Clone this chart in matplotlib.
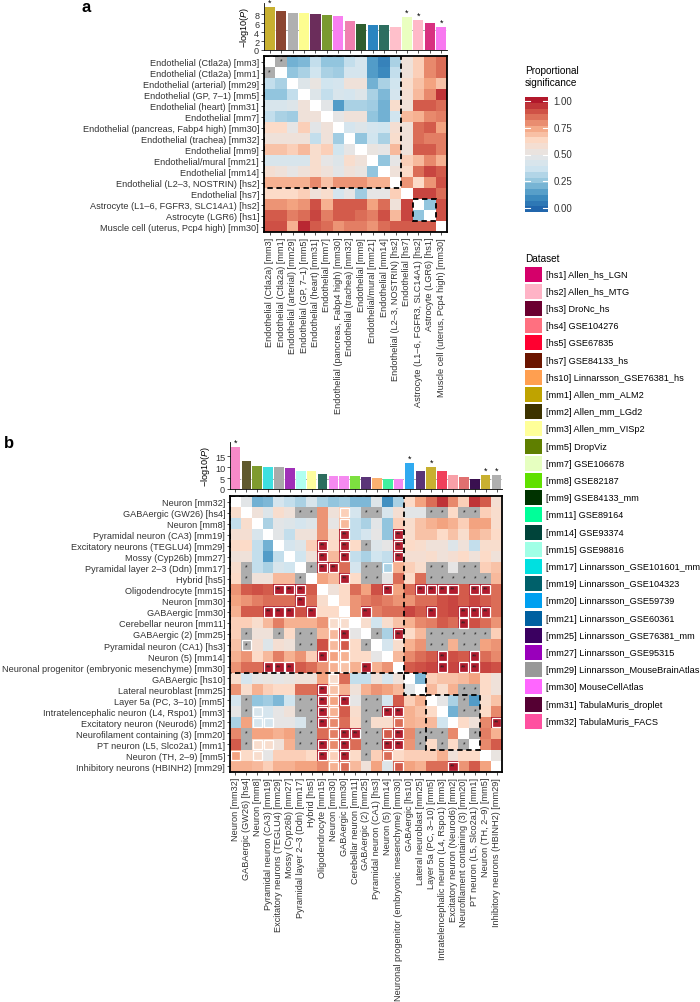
import numpy as np
import matplotlib
matplotlib.use('Agg')
import matplotlib.pyplot as plt
from matplotlib.colors import LinearSegmentedColormap, ListedColormap, Normalize
from matplotlib.patches import Rectangle

plt.rcParams['font.family'] = ['Liberation Sans', 'DejaVu Sans']
plt.rcParams['mathtext.fontset'] = 'custom'
plt.rcParams['mathtext.rm'] = 'Liberation Sans'
plt.rcParams['mathtext.it'] = 'Liberation Sans:italic'

FS = 6.55

# ---------------- panel a data ----------------
labels_a = [
    "Endothelial (Ctla2a) [mm3]", "Endothelial (Ctla2a) [mm1]", "Endothelial (arterial) [mm29]",
    "Endothelial (GP, 7\u20131) [mm5]", "Endothelial (heart) [mm31]", "Endothelial [mm7]",
    "Endothelial (pancreas, Fabp4 high) [mm30]", "Endothelial (trachea) [mm32]", "Endothelial [mm9]",
    "Endothelial/mural [mm21]", "Endothelial [mm14]", "Endothelial (L2\u20133, NOSTRIN) [hs2]",
    "Endothelial [hs7]", "Astrocyte (L1\u20136, FGFR3, SLC14A1) [hs2]", "Astrocyte (LGR6) [hs1]",
    "Muscle cell (uterus, Pcp4 high) [mm30]",
]
bars_a = [9.7, 8.7, 8.3, 8.2, 8.15, 7.9, 7.6, 6.4, 5.8, 5.55, 5.55, 5.1, 7.4, 6.6, 6.1, 5.1]
star_a = [1, 0, 0, 0, 0, 0, 0, 0, 0, 0, 0, 0, 1, 1, 0, 1]
colors_a = ['#c8b030', '#8b4530', '#b0b0b0', '#fdfd90', '#6b2d5b', '#7a9a30', '#f880f0', '#f080b0',
            '#2f5e2f', '#2a85c0', '#2d6e60', '#ffc0cb', '#eaffc0', '#ffb8c8', '#d83080', '#f878f0']
thresh_a = 4.5

# None = diagonal, 'g' = grey cell with *, 's' = ** cell
heat_a = [
    [None, 'g', .2, .22, .35, .25, .25, .35, .4, .15, .08, .3, .55, .65, .8, .85],
    ['g', None, .25, .3, .38, .3, .28, .4, .4, .15, .1, .35, .55, .65, .8, .85],
    [.35, .3, None, .45, .52, .38, .4, .55, .55, .2, .3, .38, .6, .68, .75, .68],
    [.25, .25, .35, None, .45, .35, .42, .4, .45, .3, .22, .4, .58, .7, .8, .95],
    [.42, .42, .45, .55, None, .48, .15, .3, .3, .28, .2, .6, .55, .88, .88, .85],
    [.35, .3, .28, .55, .55, None, .5, .55, .55, .25, .2, .38, .7, .72, .8, .82],
    [.62, .62, .5, .65, .48, .55, None, .4, .45, .4, .38, .58, .55, .85, .88, .75],
    [.55, .55, .55, .55, .35, .55, .28, None, .25, .38, .3, .6, .55, .85, .82, .82],
    [.68, .68, .65, .7, .6, .65, .38, .5, None, .52, .5, .7, .55, .88, .88, .82],
    [.42, .42, .42, .42, .6, .5, .45, .6, .55, None, .25, .5, .65, .7, .8, .72],
    [.58, .55, .5, .55, .6, .55, .48, .55, .52, .25, None, .55, .62, .85, .92, .88],
    [.72, .72, .72, .72, .8, .68, .78, .78, .78, .72, .72, None, .78, .62, .78, .9],
    [.62, .62, .62, .65, .55, .6, .4, .5, .28, .5, .5, .65, None, .92, .92, .85],
    [.78, .78, .75, .78, .9, .72, .88, .88, .88, .75, .85, .55, .92, None, .25, .9],
    [.88, .88, .82, .85, .92, .82, .88, .88, .85, .82, .9, .7, .92, .25, None, .9],
    [.9, .9, .72, .97, .88, .85, .78, .82, .82, .78, .85, .88, .88, .88, .88, None],
]
boxes_a = [(0, 12), (13, 15)]

# ---------------- panel b data ----------------
labels_b = [
    "Neuron [mm32]", "GABAergic (GW26) [hs4]", "Neuron [mm8]", "Pyramidal neuron (CA3) [mm19]",
    "Excitatory neurons (TEGLU4) [mm29]", "Mossy (Cyp26b) [mm27]", "Pyramidal layer 2\u20133 (Ddn) [mm17]",
    "Hybrid [hs5]", "Oligodendrocyte [mm15]", "Neuron [mm30]", "GABAergic [mm30]",
    "Cerebellar neuron [mm11]", "GABAergic (2) [mm25]", "Pyramidal neuron (CA1) [hs3]",
    "Neuron (5) [mm14]", "Neuronal progenitor (embryonic mesenchyme) [mm30]", "GABAergic [hs10]",
    "Lateral neuroblast [mm25]", "Layer 5a (PC, 3\u201310) [mm5]", "Intratelencephalic neuron (L4, Rspo1) [mm3]",
    "Excitatory neuron (Neurod6) [mm2]", "Neurofilament containing (3) [mm20]",
    "PT neuron (L5, Slco2a1) [mm1]", "Neuron (TH, 2\u20139) [mm5]", "Inhibitory neurons (HBINH2) [mm29]",
]
bars_b = [19.0, 13.0, 10.5, 10.0, 9.9, 9.75, 8.25, 8.1, 6.75, 6.0, 5.85, 5.85, 5.7, 5.25, 4.8,
          4.8, 11.85, 8.1, 10.0, 8.1, 6.3, 5.3, 4.8, 6.5, 6.3]
star_b = [1, 0, 0, 0, 0, 0, 0, 0, 0, 0, 0, 0, 0, 0, 0, 0, 1, 0, 1, 0, 0, 0, 0, 1, 1]
colors_b = ['#f78ac8', '#5f5a2e', '#7f9b2f', '#3ee0e0', '#aaaaaa', '#a030b8', '#b0fff0', '#fdfd9e',
            '#2d6d5e', '#f58af0', '#f58af0', '#7de040', '#5a3478', '#fcb070', '#40f0a0', '#f58af0',
            '#30aaf0', '#5a3478', '#c8b030', '#f0405a', '#f8a0a8', '#e07070', '#3a1050', '#c8b030',
            '#b0b0b0']
thresh_b = 4.8

heat_b = [
    [None, .48, .2, .22, .4, .35, .3, .42, .3, .25, .28, .22, .22, .45, .12, .3, .62, .75, .85, .95, .8, .65, .95, .88, .58],
    [.6, None, .55, .45, .6, .55, 'g', 'g', .78, .55, .65, .4, 'g', 'g', .42, .58, .48, .48, 'g', 'g', .62, 'g', 'g', .65, .6],
    [.35, .6, None, .3, .48, .45, .4, .45, .78, .5, .7, .35, .3, .48, .25, .65, .6, .68, .72, .75, .72, .65, .75, .75, .6],
    [.58, .58, .42, None, .48, .35, .55, .55, .78, .6, 's', .35, .4, .5, .25, 's', .6, .68, .68, .62, .68, .6, .72, .68, .62],
    [.62, .62, .35, .2, None, .4, .45, .65, 's', .62, 's', .62, 'g', .45, .5, 's', .62, .6, .55, .55, .45, .55, .35, .6, .6],
    [.55, .55, .35, .15, .35, None, .38, .55, 's', .7, 's', .35, .3, .38, .35, 's', .58, .58, .6, .55, .58, .62, .55, .62, .55],
    [.6, 'g', .35, .3, .42, .38, None, 'g', 's', 's', .85, .4, 'g', 'g', .3, .72, .65, .6, 'g', 'g', .5, 'g', 'g', .65, .68],
    [.62, 'g', .55, .55, .7, .7, 'g', None, .75, .7, 's', .62, 'g', 'g', .5, .85, .62, .85, 'g', 'g', 'g', 'g', 'g', 'g', .7],
    [.78, .88, .9, .88, 's', 's', 's', .88, None, .55, .62, .85, .75, .9, 's', .75, .85, 's', 's', 's', 's', .88, 's', 's', .85],
    [.75, .78, .82, .85, .85, .85, 's', .85, .6, None, .62, .78, .82, .85, .82, .78, .78, .85, .85, .9, .92, .88, .92, .88, .85],
    [.72, .88, .88, 's', 's', 's', .9, 's', .62, .62, None, .78, 's', .82, .85, .85, .92, .88, 's', .9, .92, 's', 's', 's', .85],
    [.65, .65, .6, .7, .82, .72, .72, .72, .78, .6, .6, None, .6, .38, .6, .68, .72, .8, .82, .88, .85, 's', .9, .85, .78],
    [.65, 'g', .55, .55, 'g', .62, 'g', 'g', .7, .7, 's', .5, None, 'g', .3, 's', .62, .7, 'g', 'g', 'g', 'g', 'g', 'g', .65],
    [.68, 'g', .58, .45, .58, .55, 'g', 'g', .9, .7, .88, .62, 'g', None, .4, .6, .72, .78, 'g', 'g', .72, 'g', 'g', .75, .78],
    [.72, .78, .62, .7, .82, .72, .78, .65, 's', .75, .72, .62, .62, .5, None, .7, .8, .85, .88, 's', .9, .88, 's', .85, .8],
    [.78, .85, .85, 's', 's', 's', .88, .85, .78, .72, .68, .72, 's', .72, .78, None, .88, .9, .92, 's', .92, 's', 's', .92, .9],
    [.6, .4, .5, .52, .5, .52, .55, .55, .75, .6, .85, .35, .35, .55, .4, .55, None, .22, .65, .68, .68, .7, .75, .62, .55],
    [.78, .6, .72, .65, .62, .62, .85, .85, 's', .68, .72, .55, .72, .78, .75, .7, .48, None, .7, .6, .72, 'g', 'g', .62, .55],
    [.4, 'g', .25, .28, .22, .38, 'g', 'g', 's', .75, 's', .5, 'g', 'g', .4, .88, .65, .72, None, .5, .3, 'g', .15, .6, .68],
    [.5, 'g', .42, .4, .5, .55, 'g', 'g', 's', .72, .88, .6, 'g', 'g', 's', 's', .72, .68, .62, None, .2, 'g', 'g', .62, .8],
    [.3, .75, .4, .4, .5, .5, .42, 'g', 's', .8, .85, .62, 'g', .6, .6, .85, .72, .7, .7, .38, None, .62, .55, .8, 's'],
    [.8, 'g', .75, .75, .72, .75, 'g', 'g', .85, .82, 's', 's', 'g', 'g', .88, 's', .8, 'g', 'g', 'g', .8, None, 'g', .82, .72],
    [.88, 'g', .6, .6, .55, .72, 'g', 'g', 's', .8, 's', .85, 'g', 'g', 's', 's', .78, 'g', .62, 'g', .62, 'g', None, .8, .88],
    [.75, .62, .6, .5, .65, .65, .65, .62, 's', .65, 's', .62, 'g', .65, .85, .62, .65, .65, .65, .72, .55, .62, .62, None, .52],
    [.72, .72, .7, .65, .72, .72, .75, .75, .8, .72, .85, .7, .55, .75, .45, .88, .75, .72, .85, .85, 's', .78, .88, .75, None],
]
boxes_b = [(0, 16), (16, 18), (18, 23)]
outlined_b = [(1, 10), (2, 10), (13, 1), (6, 14), (11, 9), (11, 10), (12, 9), (13, 9), (13, 10),
              (14, 9), (14, 10), (15, 9), (15, 10), (16, 9), (17, 9), (18, 9), (19, 9), (20, 9),
              (21, 9), (22, 9), (23, 9), (24, 9), (24, 10), (20, 15), (21, 14), (23, 14), (24, 15),
              (19, 2), (20, 2), (20, 3), (22, 2), (22, 3), (23, 0), (23, 2)]

# ---------------- legend data ----------------
dataset_labels = [
    "[hs1] Allen_hs_LGN", "[hs2] Allen_hs_MTG", "[hs3] DroNc_hs", "[hs4] GSE104276", "[hs5] GSE67835",
    "[hs7] GSE84133_hs", "[hs10] Linnarsson_GSE76381_hs", "[mm1] Allen_mm_ALM2", "[mm2] Allen_mm_LGd2",
    "[mm3] Allen_mm_VISp2", "[mm5] DropViz", "[mm7] GSE106678", "[mm8] GSE82187", "[mm9] GSE84133_mm",
    "[mm11] GSE89164", "[mm14] GSE93374", "[mm15] GSE98816", "[mm17] Linnarsson_GSE101601_mm",
    "[mm19] Linnarsson_GSE104323", "[mm20] Linnarsson_GSE59739", "[mm21] Linnarsson_GSE60361",
    "[mm25] Linnarsson_GSE76381_mm", "[mm27] Linnarsson_GSE95315", "[mm29] Linnarsson_MouseBrainAtlas",
    "[mm30] MouseCellAtlas", "[mm31] TabulaMuris_droplet", "[mm32] TabulaMuris_FACS",
]
dataset_colors = [
    '#d5006a', '#ffb3c6', '#6b0030', '#ff7080', '#ff0030', '#6b1500', '#ff9f50', '#bfa300', '#3d3300',
    '#ffff99', '#5f7f00', '#e6ffc0', '#60e000', '#003300', '#00ff99', '#00443a', '#a0ffe6', '#00e0e0',
    '#00606a', '#00a0f0', '#0060a0', '#3a0060', '#9900bb', '#999999', '#ff66ff', '#550033', '#ff50a0',
]
cbar_ticks = [0.0, 0.25, 0.5, 0.75, 1.0]

# ---------------- styling ----------------
cmap = LinearSegmentedColormap.from_list(
    'rdbu', ['#2166ac', '#4393c3', '#92c5de', '#d1e5f0', '#e6e6e6',
             '#fddbc7', '#f4a582', '#d6604d', '#b2182b'], N=256)
cmap.set_bad('white')
norm = Normalize(0, 1)
GREY = '#adadad'
DARKRED = '#b01c2e'

W, H = 700, 1003
fig = plt.figure(figsize=(7, 10.03), dpi=100)


def rect(x0, y0, x1, y1):
    return [x0 / W, 1 - y1 / H, (x1 - x0) / W, (y1 - y0) / H]


def split(rows):
    n = len(rows)
    vals = np.full((n, n), np.nan)
    g = np.zeros((n, n), bool)
    s = np.zeros((n, n), bool)
    for i, r in enumerate(rows):
        for j, v in enumerate(r):
            if v == 'g':
                g[i, j] = True
            elif v == 's':
                s[i, j] = True
            elif v is not None:
                vals[i, j] = v
    return vals, g, s


def draw_bars(ax, heights, colors, stars, thresh, ymax, yticks):
    n = len(heights)
    x = np.arange(n)
    ax.bar(x, heights, width=0.88, color=colors, edgecolor='none')
    ax.axhline(thresh, color='#999999', lw=0.6, ls=(0, (3, 2)), zorder=0)
    for i in range(n):
        if stars[i]:
            ax.text(x[i], heights[i] + ymax * 0.005, '*', ha='center', va='bottom',
                    fontsize=6.5, clip_on=False)
    ax.set_xlim(-0.5, n - 0.5)
    ax.set_ylim(0, ymax)
    ax.set_yticks(yticks)
    ax.set_xticks(x)
    ax.set_xticklabels([])
    ax.tick_params(labelsize=FS, length=2, width=0.6, pad=1.5, colors='#333333')
    for sp in ['top', 'right']:
        ax.spines[sp].set_visible(False)
    for sp in ['left', 'bottom']:
        ax.spines[sp].set_linewidth(0.6)
    ax.set_ylabel(r'$-$log10($\mathit{P}$)', fontsize=FS, labelpad=2)


def draw_heat(ax, rows, labels, boxes, outlined=()):
    vals, g, s = split(rows)
    n = len(rows)
    ax.imshow(vals, cmap=cmap, norm=norm, aspect='auto', interpolation='nearest')
    ax.imshow(np.where(g, 1.0, np.nan), cmap=ListedColormap([GREY]), aspect='auto',
              interpolation='nearest')
    ax.imshow(np.where(s, 1.0, np.nan), cmap=ListedColormap([DARKRED]), aspect='auto',
              interpolation='nearest')
    for (i, j) in outlined:
        ax.add_patch(Rectangle((j - 0.42, i - 0.42), 0.84, 0.84, fill=False, ec='white', lw=0.9))
    for i in range(n):
        for j in range(n):
            if g[i, j]:
                ax.text(j, i - 0.05, '*', ha='center', va='center', fontsize=5, color='#222222')
            if s[i, j]:
                ax.add_patch(Rectangle((j - 0.42, i - 0.42), 0.84, 0.84, fill=False, ec='white', lw=0.9))
                ax.text(j, i - 0.05, '**', ha='center', va='center', fontsize=5, color='#222222')
    for a, b in boxes:
        ax.add_patch(Rectangle((a - 0.5, a - 0.5), b - a, b - a, fill=False, ec='black',
                               lw=1.3, ls=(0, (3, 2)), zorder=5))
    ax.set_xticks(range(n))
    ax.set_yticks(range(n))
    ax.set_xticklabels(labels, rotation=90, fontsize=FS)
    ax.set_yticklabels(labels, fontsize=FS)
    ax.tick_params(length=2, width=0.6, pad=1.5, colors='#333333')
    for sp in ax.spines.values():
        sp.set_linewidth(1.3)
    ax.set_xlim(-0.5, n - 0.5)
    ax.set_ylim(n - 0.5, -0.5)


# panel a
ax_ab = fig.add_axes(rect(264, 4, 447, 51))
draw_bars(ax_ab, bars_a, colors_a, star_a, thresh_a, 10.5, [0, 2, 4, 6, 8])
ax_ah = fig.add_axes(rect(264, 57, 447, 233))
draw_heat(ax_ah, heat_a, labels_a, boxes_a)

# panel b
ax_bb = fig.add_axes(rect(230, 443, 502, 490))
draw_bars(ax_bb, bars_b, colors_b, star_b, thresh_b, 21.5, [0, 5, 10, 15])
ax_bh = fig.add_axes(rect(230, 497, 502, 773))
draw_heat(ax_bh, heat_b, labels_b, boxes_b, outlined_b)

fig.text(82 / W, 1 - 0 / H, 'a', fontsize=12, fontweight='bold', va='top')
fig.text(4 / W, 1 - 436 / H, 'b', fontsize=12, fontweight='bold', va='top')

# colour bar
cax = fig.add_axes(rect(525, 98, 548, 213))
levels = np.linspace(0, 1, 20)
cax.imshow(levels.reshape(-1, 1), cmap=cmap, norm=norm, aspect='auto', origin='lower',
           extent=(0, 1, -0.035, 1.035), interpolation='nearest')
for t in cbar_ticks:
    cax.plot([0, 0.2], [t, t], color='white', lw=0.8)
    cax.plot([0.8, 1], [t, t], color='white', lw=0.8)
    cax.text(1.25, t, f'{t:.2f}', ha='left', va='center', fontsize=7, color='#333333')
cax.set_xlim(0, 1)
cax.set_ylim(-0.035, 1.035)
cax.axis('off')
fig.text(525 / W, 1 - 66 / H, 'Proportional\nsignificance', fontsize=7.2, va='top',
         linespacing=1.2)

# dataset legend
lax = fig.add_axes([0, 0, 1, 1])
lax.set_xlim(0, W)
lax.set_ylim(H, 0)
lax.axis('off')
lax.text(525, 259, 'Dataset', fontsize=7.2, va='center', ha='left')
for k, (lab, col) in enumerate(zip(dataset_labels, dataset_colors)):
    yc = 275 + k * 17.2
    lax.add_patch(Rectangle((525, yc - 7.5), 17, 15, color=col, lw=0))
    lax.text(546, yc, lab, fontsize=6.55, va='center', ha='left')

fig.savefig('out.png', dpi=100)
